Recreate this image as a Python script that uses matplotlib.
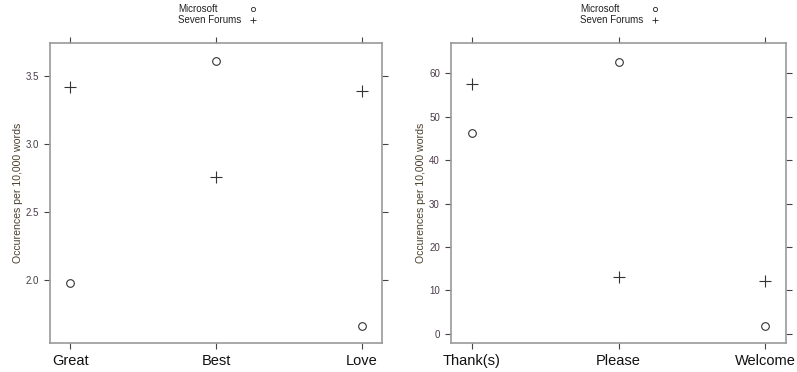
import matplotlib
matplotlib.use("Agg")
import matplotlib.pyplot as plt
from matplotlib.lines import Line2D

plt.rcParams['font.family'] = ['Liberation Sans', 'DejaVu Sans']

# left panel: Great / Best / Love
words_left = ["Great", "Best", "Love"]
microsoft_left = [1.975, 3.61, 1.66]
seven_left = [3.42, 2.755, 3.39]
yticks_left = [2.0, 2.5, 3.0, 3.5]

# right panel: Thank(s) / Please / Welcome
words_right = ["Thank(s)", "Please", "Welcome"]
microsoft_right = [46.3, 62.5, 1.8]
seven_right = [57.5, 13.1, 12.2]
yticks_right = [0, 10, 20, 30, 40, 50, 60]

series_names = ["Microsoft", "Seven Forums"]

fig = plt.figure(figsize=(7.97, 3.72), dpi=100)
W, H = 797.0, 372.0

def panel(px0, px1, words, ms, sf, yticks, ylim, fmt, leg_x):
    ax = fig.add_axes([px0 / W, 1 - 343 / H, (px1 - px0) / W, 300 / H])
    x = [1, 2, 3]
    ax.plot(x, ms, linestyle="none", marker="o", markersize=5.5,
            markerfacecolor="none", markeredgecolor="#333333", markeredgewidth=0.8)
    ax.plot(x, sf, linestyle="none", marker="+", markersize=9,
            color="#333333", markeredgewidth=0.8)
    ax.set_xlim(0.86, 3.14)
    ax.set_ylim(*ylim)
    for s in ax.spines.values():
        s.set_color("#999999")
        s.set_linewidth(1.2)
    ax.set_xticks(x)
    ax.set_xticklabels(words, fontsize=10.5, color="#111111")
    ax.set_yticks(yticks)
    ax.set_yticklabels([fmt % v for v in yticks], fontsize=7, color="#4a3b4a")
    ax.tick_params(axis="both", direction="out", length=4, width=0.8,
                   color="#444444", top=True, right=True, labeltop=False, labelright=False)
    ax.tick_params(axis="x", pad=4)
    ax.tick_params(axis="y", pad=4)
    ax.set_ylabel("Occurences per 10,000 words", fontsize=7.6, color="#4a3f2a", labelpad=2)

    # legend above the panel, lattice style
    fig.text(leg_x / W, 1 - 9 / H, series_names[0], fontsize=7, color="#222222",
             ha="left", va="center")
    fig.text(leg_x / W, 1 - 20 / H, series_names[1], fontsize=7, color="#222222",
             ha="left", va="center")
    sym_x = (leg_x + 75) / W
    fig.add_artist(Line2D([sym_x], [1 - 9 / H], marker="o", markersize=3,
                          markerfacecolor="none", markeredgecolor="#222222",
                          markeredgewidth=0.6, transform=fig.transFigure))
    fig.add_artist(Line2D([sym_x], [1 - 20 / H], marker="+", markersize=5,
                          color="#222222", markeredgewidth=0.6, transform=fig.transFigure))
    return ax

panel(50, 382, words_left, microsoft_left, seven_left, yticks_left,
      (1.537, 3.74), "%.1f", 178)
panel(451, 786, words_right, microsoft_right, seven_right, yticks_right,
      (-2.07, 66.9), "%d", 580)

fig.savefig("out.png", dpi=100, facecolor="white")
